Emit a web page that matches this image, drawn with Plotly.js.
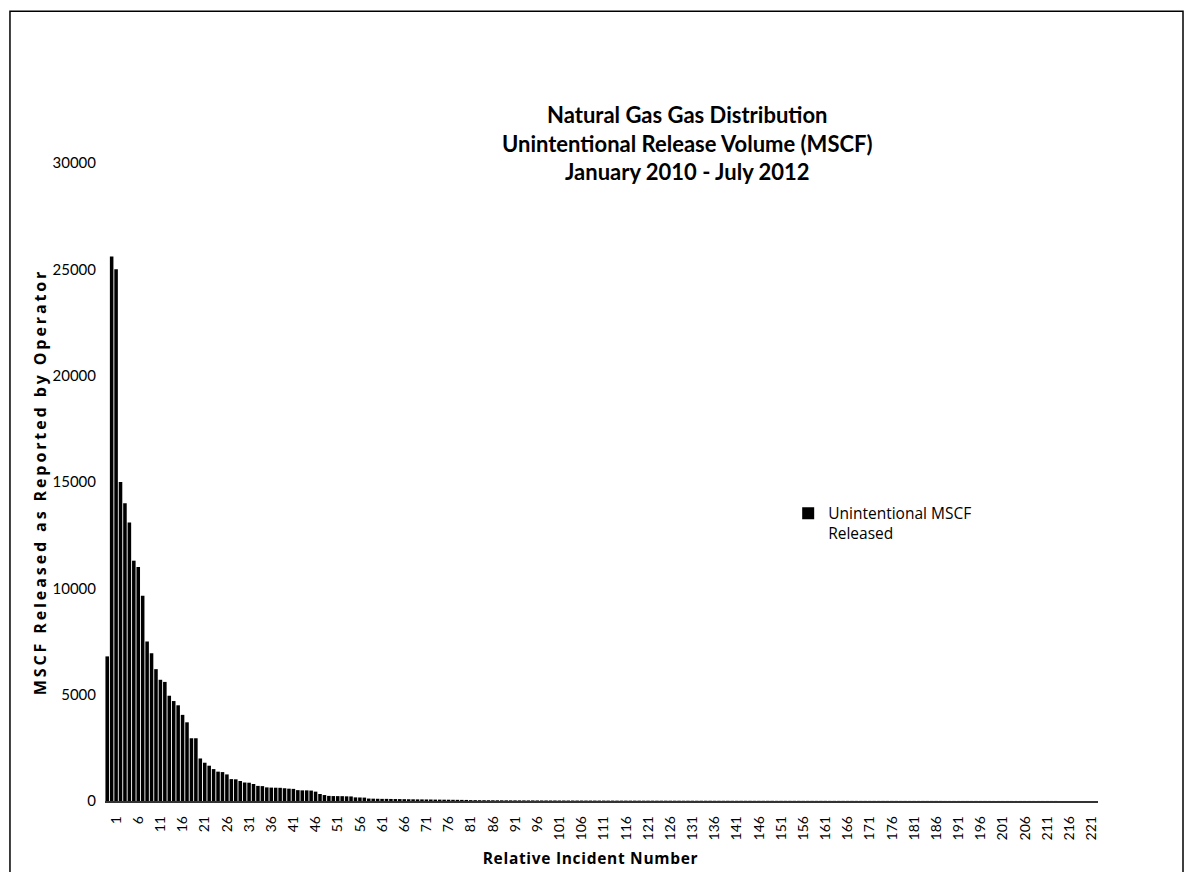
<!DOCTYPE html>
<html>
<head>
<meta charset="utf-8">
<script src="https://cdn.plot.ly/plotly-3.0.1.min.js"></script>
<style>
html,body{margin:0;padding:0;background:#fff;}
#chart{width:1185px;height:872px;}
#chart .g-ytitle text{letter-spacing:2.9px;}
#chart .g-xtitle text{letter-spacing:0.7px;}
</style>
</head>
<body>
<div id="chart"></div>
<script>
// Unintentional MSCF released per relative incident number
const releasedMSCF = [
  6800, 25600, 25000, 15000, 14000, 13100, 11300, 11000, 9650, 7500,
  6950, 6200, 5700, 5600, 4950, 4700, 4500, 4050, 3700, 2950,
  2950, 2000, 1800, 1660, 1500, 1380, 1360, 1250, 1030, 1020,
  940, 870, 860, 800, 710, 700, 640, 630, 625, 620,
  600, 580, 570, 510, 500, 500, 490, 440, 330, 280,
  240, 232, 230, 228, 220, 215, 170, 165, 160, 115,
  110, 105, 100, 100, 96, 92, 90, 86, 82, 80,
  76, 75, 72, 70, 66, 65, 62, 60, 57, 55,
  52, 50, 42, 40, 38, 37, 36, 35, 34, 33,
  32, 31, 30, 30, 29, 28, 28, 27, 26, 26,
  25, 25, 24, 24, 23, 23, 22, 22, 21, 21,
  20, 20, 20, 19, 19, 18, 18, 18, 17, 17,
  17, 16, 16, 16, 15, 15, 15, 14, 14, 14,
  13, 13, 13, 12, 12, 12, 12, 11, 11, 11,
  11, 10, 10, 10, 10, 10, 9, 9, 9, 9,
  9, 8, 8, 8, 8, 8, 8, 7, 7, 7,
  7, 7, 7, 6, 6, 6, 6, 6, 6, 6,
  5, 5, 5, 5, 5, 5, 5, 5, 5, 4,
  4, 4, 4, 4, 4, 4, 4, 4, 4, 3,
  3, 3, 3, 3, 3, 3, 3, 3, 3, 3,
  2, 2, 2, 2, 2, 2, 2, 2, 2, 2,
  2, 2, 2, 2, 2, 1, 1, 1, 1, 1,
  1, 1, 1, 1
];
// Relative incident numbers (one per value)
const incidentNumbers = releasedMSCF.map((v, i) => i + 1);
// Tick labels shown on the x axis
const xTickValues = [1, 6, 11, 16, 21, 26, 31, 36, 41, 46, 51, 56, 61, 66, 71, 76, 81, 86, 91, 96,
  101, 106, 111, 116, 121, 126, 131, 136, 141, 146, 151, 156, 161, 166, 171, 176, 181, 186,
  191, 196, 201, 206, 211, 216, 221];
const yTickValues = [0, 5000, 10000, 15000, 20000, 25000, 30000];
const seriesName = 'Unintentional MSCF<br>Released';
const chartTitle = 'Natural Gas Gas Distribution<br>Unintentional Release Volume (MSCF)<br>January 2010 - July 2012';
const xTitle = 'Relative Incident Number';
const yTitle = 'MSCF Released as Reported by Operator';

const FONT = 'Lato, "Noto Sans", sans-serif';
const FONT2 = '"Open Sans", "Noto Sans", sans-serif';

const trace = {
  type: 'bar',
  x: incidentNumbers,
  y: releasedMSCF,
  name: seriesName,
  marker: {color: '#000000', line: {width: 0}},
  showlegend: true
};

const layout = {
  width: 1185,
  height: 872,
  paper_bgcolor: '#ffffff',
  plot_bgcolor: '#ffffff',
  margin: {l: 105, r: 87, t: 163, b: 71, pad: 0},
  bargap: 0.2,
  font: {family: FONT, color: '#000000', size: 14},
  title: {
    text: chartTitle,
    font: {family: FONT, size: 22, color: '#000000', weight: 'bold'},
    x: 0.58, xref: 'container', xanchor: 'center',
    y: 1 - 123 / 872, yref: 'container', yanchor: 'top'
  },
  xaxis: {
    type: 'linear',
    range: [0.5, 224.5],
    tickmode: 'array',
    tickvals: xTickValues,
    ticktext: xTickValues.map(String),
    tickangle: -90,
    tickfont: {family: FONT, size: 14, color: '#000000'},
    ticks: '',
    ticklabelstandoff: 8,
    ticklabelshift: 9,
    showline: true,
    linecolor: '#333333',
    linewidth: 1.5,
    showgrid: false,
    zeroline: false,
    automargin: false,
    title: {text: xTitle, font: {family: FONT2, size: 15.5, color: '#000000', weight: 'bold'}}
  },
  yaxis: {
    range: [0, 30000],
    tickmode: 'array',
    tickvals: yTickValues,
    ticktext: yTickValues.map(String),
    tickfont: {family: FONT, size: 15, color: '#000000'},
    ticks: '',
    ticklabelstandoff: 8,
    showline: false,
    showgrid: false,
    zeroline: false,
    automargin: true,
    title: {text: yTitle, standoff: 1, font: {family: FONT2, size: 16, color: '#000000', weight: 'bold'}}
  },
  legend: {
    x: 0.688, y: 0.477, xanchor: 'left', yanchor: 'top',
    bgcolor: 'rgba(0,0,0,0)',
    font: {family: FONT2, size: 15.5, color: '#000000'},
    valign: 'top'
  },
  shapes: [{
    type: 'rect', xref: 'paper', yref: 'paper',
    x0: -0.0957, x1: 1.0856, y0: -0.12, y1: 1.238,
    line: {color: '#000000', width: 1.5},
    fillcolor: 'rgba(0,0,0,0)'
  }]
};

Plotly.newPlot('chart', [trace], layout, {displayModeBar: false, staticPlot: true}).then(function (gd) {
  // nudge the x-axis title to where the reference draws it
  const xt = gd.querySelector('.g-xtitle text');
  if (xt) { xt.setAttribute('transform', 'translate(-11,5)'); }
});
</script>
</body>
</html>
